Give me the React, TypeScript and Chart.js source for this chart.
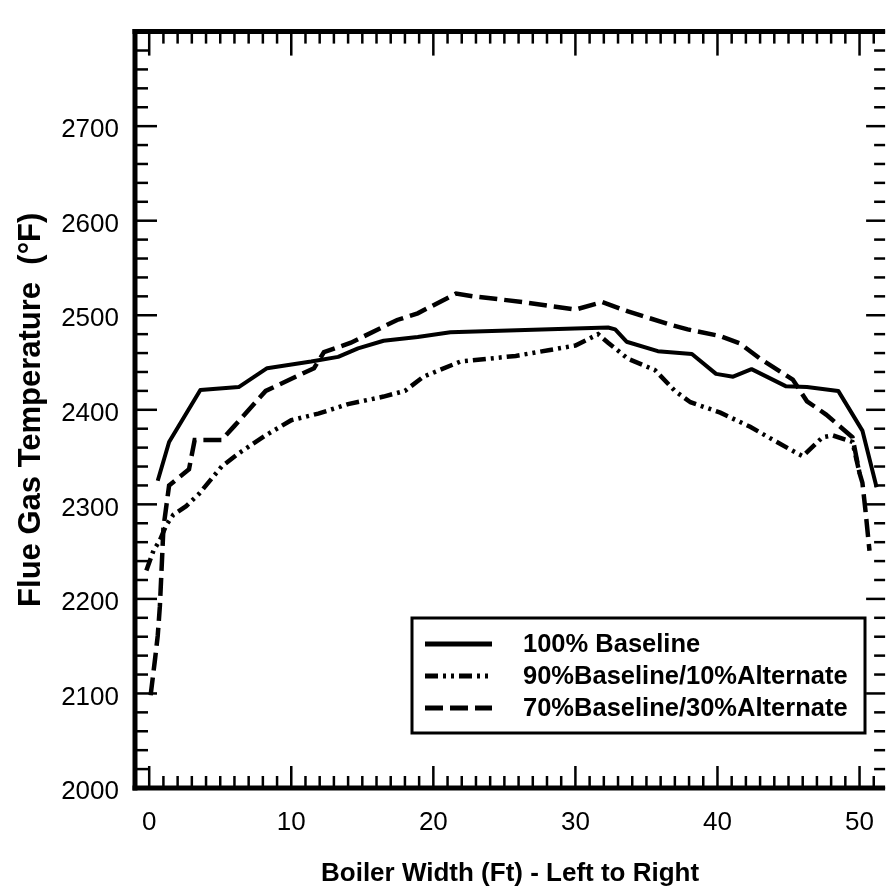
import React, { useEffect, useRef } from "react";
import { Chart, registerables } from "chart.js";

Chart.register(...registerables);

// ---------- data ----------
const seriesLabels = [
  "100% Baseline",
  "90%Baseline/10%Alternate",
  "70%Baseline/30%Alternate",
];

const xBaseline = [0.6, 1.4, 3.6, 6.3, 8.3, 11.4, 13.3, 14.7, 16.5, 18.9, 21.2, 32.3, 32.8, 33.6, 35.8, 38.2, 39.9, 41.1, 42.4, 44.8, 46.3, 48.5, 50.2, 51.2];
const yBaseline = [2325, 2366, 2421, 2424, 2444, 2451, 2456, 2465, 2473, 2477, 2482, 2487, 2485, 2472, 2462, 2459, 2438, 2435, 2443, 2425, 2424, 2420, 2378, 2318];

const x90 = [-0.2, 0.3, 0.75, 1.2, 1.7, 2.6, 3.5, 5.1, 6.3, 8.2, 10.0, 11.9, 14.0, 16.5, 18.0, 19.3, 21.9, 25.8, 28.1, 30.0, 31.6, 32.3, 33.7, 35.6, 37.0, 38.1, 40.2, 42.3, 43.7, 45.6, 46.0, 47.4, 48.1, 49.5, 50.0];
const y90 = [2230, 2251, 2262, 2278, 2289, 2298, 2311, 2340, 2354, 2373, 2389, 2396, 2406, 2414, 2420, 2435, 2451, 2457, 2463, 2468, 2480, 2471, 2454, 2442, 2420, 2408, 2397, 2382, 2370, 2354, 2351, 2371, 2373, 2366, 2333];

const x70 = [0.1, 0.4, 0.6, 0.75, 0.9, 1.0, 1.4, 2.8, 3.2, 5.1, 6.0, 8.2, 11.6, 12.3, 14.2, 17.45, 18.9, 21.6, 22.8, 26.3, 30.0, 31.9, 33.7, 36.7, 37.9, 40.2, 41.6, 43.0, 45.3, 46.3, 47.65, 49.5, 50.0, 50.2, 50.4, 50.7];
const y70 = [2098, 2135, 2161, 2192, 2241, 2275, 2320, 2337, 2368, 2368, 2383, 2420, 2444, 2461, 2471, 2495, 2502, 2523, 2520, 2514, 2506, 2514, 2504, 2490, 2485, 2478, 2470, 2454, 2432, 2409, 2395, 2371, 2333, 2323, 2296, 2251];

const xTickValues = [0, 10, 20, 30, 40, 50];
const yTickValues = [2000, 2100, 2200, 2300, 2400, 2500, 2600, 2700];

const xTitle = "Boiler Width (Ft) - Left to Right";
const yTitle = "Flue Gas Temperature  (\u00B0F)";

const FONT = '"Liberation Sans", Arial, Helvetica, sans-serif';

const toPoints = (xs: number[], ys: number[]) => xs.map((x, i) => ({ x, y: ys[i] }));

const framePlugin = {
  id: "frame",
  afterDatasetsDraw(chart: any) {
    const { ctx, chartArea: a, scales } = chart;
    const xs = scales.x;
    const ys = scales.y;
    const line = (x1: number, y1: number, x2: number, y2: number) => {
      ctx.beginPath();
      ctx.moveTo(x1, y1);
      ctx.lineTo(x2, y2);
      ctx.stroke();
    };
    ctx.save();
    ctx.strokeStyle = "#000";
    ctx.lineCap = "butt";
    ctx.lineWidth = 2.5;
    for (let v = 0; v <= 51; v += 1) {
      const px = xs.getPixelForValue(v);
      const major = v % 10 === 0;
      line(px, a.bottom, px, a.bottom - (major ? 22 : 12));
      line(px, a.top, px, a.top + (major ? 24 : 12));
    }
    for (let v = 2000; v <= 2800; v += 20) {
      const py = ys.getPixelForValue(v);
      const major = v % 100 === 0;
      line(a.left, py, a.left + (major ? 22 : 13), py);
      line(a.right, py, a.right - (major ? 19 : 11), py);
    }
    ctx.lineWidth = 5;
    line(a.left - 2.5, a.top, a.right, a.top);
    line(a.left - 2.5, a.bottom, a.right, a.bottom);
    line(a.left, a.top - 2.5, a.left, a.bottom + 2.5);
    ctx.restore();
  },
};

const legendPlugin = {
  id: "boxLegend",
  afterDraw(chart: any) {
    const { ctx } = chart;
    const left = 412, top = 618, right = 865, bottom = 733;
    const rows = [644, 676, 708];
    ctx.save();
    ctx.fillStyle = "#fff";
    ctx.fillRect(left, top, right - left, bottom - top);
    ctx.strokeStyle = "#000";
    ctx.lineWidth = 3;
    ctx.strokeRect(left, top, right - left, bottom - top);
    chart.data.datasets.forEach((ds: any, i: number) => {
      const y = rows[i];
      ctx.beginPath();
      ctx.setLineDash(ds.borderDash || []);
      ctx.lineWidth = 5;
      ctx.moveTo(425, y);
      ctx.lineTo(492, y);
      ctx.stroke();
      ctx.setLineDash([]);
      ctx.fillStyle = "#000";
      ctx.font = `bold 25.5px ${FONT}`;
      ctx.textAlign = "left";
      ctx.textBaseline = "middle";
      ctx.fillText(ds.label, 523, y + 1);
    });
    ctx.restore();
  },
};

export default function App() {
  const ref = useRef<HTMLCanvasElement | null>(null);

  useEffect(() => {
    if (!ref.current) return;
    const chart = new Chart(ref.current, {
      type: "line",
      data: {
        datasets: [
          {
            label: seriesLabels[0],
            data: toPoints(xBaseline, yBaseline),
            borderColor: "#000",
            borderWidth: 4,
            pointRadius: 0,
            tension: 0,
            borderJoinStyle: "round",
          },
          {
            label: seriesLabels[1],
            data: toPoints(x90, y90),
            borderColor: "#000",
            borderWidth: 4.5,
            borderDash: [13, 5, 3, 5, 3, 5],
            pointRadius: 0,
            tension: 0,
          },
          {
            label: seriesLabels[2],
            data: toPoints(x70, y70),
            borderColor: "#000",
            borderWidth: 4.5,
            borderDash: [18, 7],
            pointRadius: 0,
            tension: 0,
          },
        ],
      },
      options: {
        animation: false,
        responsive: false,
        devicePixelRatio: 1,
        layout: { padding: 0 },
        plugins: {
          legend: { display: false },
          tooltip: { enabled: false },
        },
        scales: {
          x: {
            type: "linear",
            min: -1,
            max: 51.8,
            afterBuildTicks: (s: any) => {
              s.ticks = xTickValues.map((v) => ({ value: v }));
            },
            afterFit: (s: any) => {
              s.height = 105;
            },
            grid: { display: false, drawTicks: false },
            border: { display: false },
            ticks: {
              autoSkip: false,
              maxRotation: 0,
              padding: 19,
              color: "#000",
              font: { family: FONT, size: 26 },
              callback: (v: any) => String(v),
            },
            title: {
              display: true,
              text: xTitle,
              color: "#000",
              font: { family: FONT, size: 26, weight: "bold" },
              padding: { top: 0, bottom: 4 },
            },
          },
          y: {
            type: "linear",
            min: 2000,
            max: 2800,
            afterBuildTicks: (s: any) => {
              s.ticks = yTickValues.map((v) => ({ value: v }));
            },
            afterFit: (s: any) => {
              s.width = 135;
            },
            grid: { display: false, drawTicks: false },
            border: { display: false },
            ticks: {
              autoSkip: false,
              padding: 16,
              labelOffset: 4,
              color: "#000",
              font: { family: FONT, size: 26 },
              callback: (v: any) => String(v),
            },
            title: {
              display: true,
              text: yTitle,
              color: "#000",
              font: { family: FONT, size: 31, weight: "bold" },
              padding: { top: 13, bottom: 0 },
            },
          },
        },
      } as any,
      plugins: [framePlugin, legendPlugin],
    });
    return () => chart.destroy();
  }, []);

  return (
    <div style={{ position: "absolute", left: 0, top: 0, width: 893, height: 893, background: "#fff" }}>
      <canvas ref={ref} width={893} height={893} style={{ display: "block" }} />
    </div>
  );
}
